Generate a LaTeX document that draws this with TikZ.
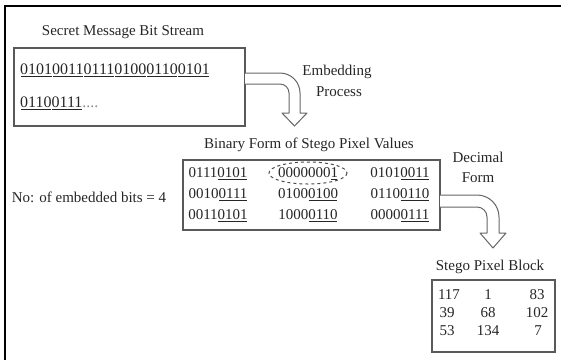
\documentclass[tikz,border=0pt]{standalone}
\usepackage{fontspec}
\setmainfont{Liberation Serif}
\newcommand\ubits[1]{\setbox0\hbox{#1}\rlap{\kern0.6pt\rule[-2.2pt]{\dimexpr\wd0-1.2pt\relax}{0.7pt}}\box0}
\begin{document}
\begin{tikzpicture}[x=1pt,y=-1pt,
  txt/.style={inner sep=0pt,text=black!85,font=\fontsize{15}{17}\selectfont},
  bitline/.style={txt,anchor=west,font=\fontsize{16}{18}\selectfont},
  panel/.style={draw=black!65,line width=1.1pt},
  bentarrow/.style={draw=black!60,line width=1pt,fill=white,line join=round}]
\useasboundingbox (0,0) rectangle (561,360);
% outer frame (top and left edges)
\draw[line width=2.2pt] (5,360) -- (5,6) -- (561,6);

% secret message panel
\node[txt] (ttlmsg) at (123,32) {Secret Message Bit Stream};
\draw[panel] (14,48) rectangle (245,126);
\node[bitline] (bits1) at (20,70) {\ubits{0101}\ubits{0011}\ubits{0111}\ubits{0100}\ubits{0110}\ubits{0101}};
\node[bitline] (bits2) at (20,103) {\ubits{0110}\ubits{0111}\textcolor{black!45}{....}};

% embedding arrow
\draw[bentarrow] (245,73) [rounded corners=20pt] -- (300,73) [sharp corners] -- (300,113) -- (307,113)
  -- (294.5,126) -- (282,113) -- (289,113) [rounded corners=9pt] -- (289,84) [sharp corners] -- (245,84);
\node[txt] (emb1) at (337,72) {Embedding};
\node[txt] (emb2) at (339,92) {Process};

% binary stego pixel panel
\node[txt] (ttlbin) at (309,145) {Binary Form of Stego Pixel Values};
\draw[panel] (183,160) rectangle (440,230);
\node[txt] (b11) at (218,174) {0111\ubits{0101}};
\node[txt] (b12) at (308,174) {0000000\ubits{1}};
\node[txt] (b13) at (400,174) {0101\ubits{0011}};
\node[txt] (b21) at (218,195) {0010\ubits{0111}};
\node[txt] (b22) at (308,195) {0100\ubits{0100}};
\node[txt] (b23) at (400,195) {0110\ubits{0110}};
\node[txt] (b31) at (218,216) {0011\ubits{0101}};
\node[txt] (b32) at (308,216) {1000\ubits{0110}};
\node[txt] (b33) at (400,216) {0000\ubits{0111}};
\draw[black!70,dashed,line width=1pt] (308,173) ellipse [x radius=39,y radius=11];
\node[txt] (nbits) at (89,197) {No: of embedded bits = 4};

% decimal conversion arrow
\draw[bentarrow] (440,195) [rounded corners=22pt] -- (499,195) [sharp corners] -- (499,233) -- (506,233)
  -- (493,248) -- (480,233) -- (487,233) [rounded corners=10pt] -- (487,207) [sharp corners] -- (440,207);
\node[txt] (dec1) at (478,157) {Decimal};
\node[txt] (dec2) at (478,178) {Form};

% decimal stego pixel block
\node[txt] (ttlblk) at (490,267) {Stego Pixel Block};
\draw[panel] (432,280) rectangle (555,352);
\node[txt] (d11) at (449,295) {117};
\node[txt] (d12) at (488,295) {1};
\node[txt] (d13) at (537,295) {83};
\node[txt] (d21) at (447,313) {39};
\node[txt] (d22) at (488,313) {68};
\node[txt] (d23) at (537,313) {102};
\node[txt] (d31) at (447,331) {53};
\node[txt] (d32) at (488,331) {134};
\node[txt] (d33) at (538,331) {7};
\end{tikzpicture}
\end{document}
